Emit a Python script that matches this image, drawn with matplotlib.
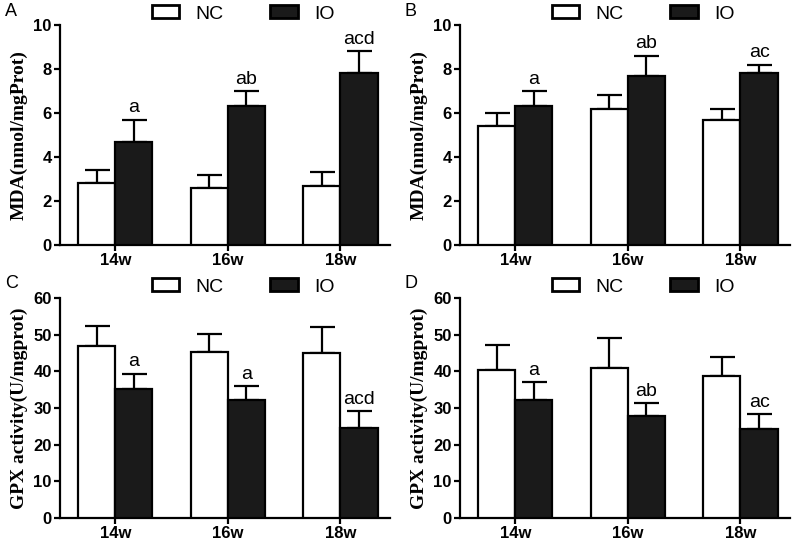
"""
Four bar panels (MDA and GPX activity, NC vs IO at 14w/16w/18w).
"""

import numpy as np
import matplotlib
matplotlib.use("Agg")
import matplotlib.pyplot as plt
from matplotlib.patches import Patch
from matplotlib.font_manager import FontProperties

# Data
# ----------------------------------------------------------------------
WEEKS = ["14w", "16w", "18w"]

A_NC = [2.8, 2.6, 2.7]
A_NC_ERR = [0.6, 0.6, 0.6]
A_IO = [4.7, 6.3, 7.8]
A_IO_ERR = [1.0, 0.7, 1.0]
A_MARKS = ["a", "ab", "acd"]

B_NC = [5.4, 6.2, 5.7]
B_NC_ERR = [0.6, 0.6, 0.5]
B_IO = [6.3, 7.7, 7.8]
B_IO_ERR = [0.7, 0.9, 0.4]
B_MARKS = ["a", "ab", "ac"]

C_NC = [46.8, 45.3, 45.1]
C_NC_ERR = [5.7, 4.8, 7.0]
C_IO = [35.3, 32.1, 24.6]
C_IO_ERR = [4.1, 3.9, 4.5]
C_MARKS = ["a", "a", "acd"]

D_NC = [40.5, 41.0, 38.7]
D_NC_ERR = [6.8, 8.0, 5.1]
D_IO = [32.2, 27.7, 24.3]
D_IO_ERR = [4.9, 3.7, 4.0]
D_MARKS = ["a", "ab", "ac"]
# ----------------------------------------------------------------------

W, H = 800, 547
BAR_W = 0.33
LW = 1.6
TICKFONT = dict(family="Liberation Sans", weight="bold", size=12)


def panel(fig, rect, letter, nc, nc_err, io, io_err, marks, ymax, ystep,
          ylabel):
    l, b, r, t = rect
    ax = fig.add_axes([l / W, 1 - b / H, (r - l) / W, (b - t) / H])
    x = np.arange(len(WEEKS))
    ax.bar(x - BAR_W / 2, nc, BAR_W, color="white", edgecolor="black",
           linewidth=LW, zorder=3)
    ax.bar(x + BAR_W / 2, io, BAR_W, color="#1a1a1a", edgecolor="black",
           linewidth=LW, zorder=3)
    zeros = [0] * len(x)
    ax.errorbar(x - BAR_W / 2, nc, yerr=[zeros, nc_err], fmt="none",
                ecolor="black", elinewidth=LW, capsize=9, capthick=LW,
                zorder=2)
    ax.errorbar(x + BAR_W / 2, io, yerr=[zeros, io_err], fmt="none",
                ecolor="black", elinewidth=LW, capsize=9, capthick=LW,
                zorder=2)
    for xi, v, e, m in zip(x, io, io_err, marks):
        ax.text(xi + BAR_W / 2, v + e + ymax * 0.015, m, ha="center",
                va="bottom", fontsize=14, family="Liberation Sans")
    ax.set_xlim(-0.49, 2.44)
    ax.set_ylim(0, ymax)
    ax.set_yticks(np.arange(0, ymax + 0.01, ystep))
    ax.set_xticks(x)
    ax.set_xticklabels(WEEKS)
    for lab in ax.get_xticklabels() + ax.get_yticklabels():
        lab.set_fontproperties(FontProperties(**TICKFONT))
    ax.spines["top"].set_visible(False)
    ax.spines["right"].set_visible(False)
    ax.spines["left"].set_linewidth(LW)
    ax.spines["bottom"].set_linewidth(LW)
    ax.tick_params(direction="out", length=4, width=LW, pad=2)
    ax.set_ylabel(ylabel, family="Liberation Serif", weight="bold",
                  fontsize=14, labelpad=4)
    # legend across the top
    handles = [Patch(facecolor="white", edgecolor="black", linewidth=2),
               Patch(facecolor="#1a1a1a", edgecolor="black", linewidth=2)]
    ax.legend(handles, ["NC", "IO"], ncol=2, frameon=False,
              loc="center", bbox_to_anchor=(0.555, 1.05),
              prop=dict(family="Liberation Sans", size=14),
              handlelength=1.4, handleheight=0.65, columnspacing=2.4,
              handletextpad=0.85, borderaxespad=0)
    fig.text((l - 55) / W, 1 - (t - 14) / H, letter, fontsize=13,
             family="Liberation Sans", va="center", ha="left")
    return ax


def main():
    fig = plt.figure(figsize=(W / 100, H / 100), dpi=100)
    panel(fig, (60, 245, 390, 25), "A", A_NC, A_NC_ERR, A_IO, A_IO_ERR,
          A_MARKS, 10, 2, "MDA(nmol/mgProt)")
    panel(fig, (460, 245, 790, 25), "B", B_NC, B_NC_ERR, B_IO, B_IO_ERR,
          B_MARKS, 10, 2, "MDA(nmol/mgProt)")
    panel(fig, (60, 518, 390, 298), "C", C_NC, C_NC_ERR, C_IO, C_IO_ERR,
          C_MARKS, 60, 10, "GPX activity(U/mgprot)")
    panel(fig, (460, 518, 790, 298), "D", D_NC, D_NC_ERR, D_IO, D_IO_ERR,
          D_MARKS, 60, 10, "GPX activity(U/mgprot)")
    fig.savefig("out.png", dpi=100)


if __name__ == "__main__":
    main()
